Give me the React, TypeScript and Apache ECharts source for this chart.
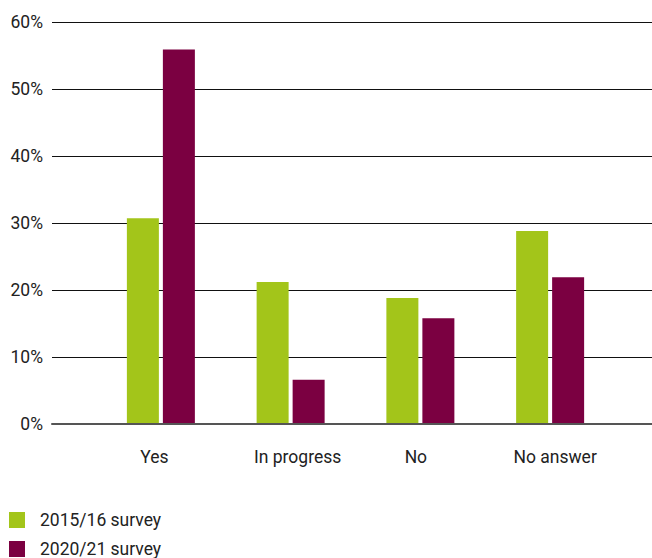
import React, { useEffect, useRef } from "react";
import * as echarts from "echarts";

const categories = ["Yes", "In progress", "No", "No answer"];
const survey2015 = [30.7, 21.2, 18.8, 28.8];
const survey2020 = [55.9, 6.6, 15.8, 21.9];
const seriesNames = ["2015/16 survey", "2020/21 survey"];
const yTicks = { min: 0, max: 60, interval: 10 };

const FONT = "Roboto, 'Liberation Sans', sans-serif";
const FS = 17.5;
const TXT = "#222";
const GREEN = "#A3C51A";
const MAROON = "#7B0041";

export default function App() {
  const ref = useRef<HTMLDivElement>(null);
  useEffect(() => {
    if (!ref.current) return;
    const chart = echarts.init(ref.current, undefined, { renderer: "svg" });
    const labelStyles = ["s0", "s1", "s2", "s3"];
    const legendCommon = {
      orient: "vertical",
      left: 9,
      padding: 0,
      itemWidth: 16,
      itemHeight: 16,
      icon: "rect",
      textStyle: { fontFamily: FONT, fontSize: FS, color: TXT, padding: [3, 0, 0, 10] },
    };
    chart.setOption({
      animation: false,
      textStyle: { fontFamily: FONT },
      legend: [
        { ...legendCommon, top: 511, data: [seriesNames[0]] },
        { ...legendCommon, top: 540, data: [seriesNames[1]] },
      ],
      grid: [
        { left: 52, right: 0, top: 22, bottom: 134 },
        { left: 96, right: 37, top: 22, bottom: 134 },
      ],
      xAxis: [
        {
          gridIndex: 0,
          type: "category",
          data: categories,
          axisLine: { show: true, lineStyle: { color: "#555", width: 2 } },
          axisTick: { show: false },
          axisLabel: { show: false },
          splitLine: { show: false },
          z: 5,
        },
        {
          gridIndex: 1,
          type: "category",
          data: categories,
          axisLine: { show: false },
          axisTick: { show: false },
          axisLabel: {
            interval: 0,
            margin: 24,
            fontFamily: FONT,
            fontSize: FS,
            color: TXT,
            formatter: (v: string) => {
              const i = categories.indexOf(v);
              return `{${labelStyles[i]}|${v}}`;
            },
            rich: {
              s0: { fontFamily: FONT, fontSize: FS, color: TXT, padding: [0, 13, 0, 0] },
              s1: { fontFamily: FONT, fontSize: FS, color: TXT, padding: [0, 0, 0, 14] },
              s2: { fontFamily: FONT, fontSize: FS, color: TXT, padding: [0, 9, 0, 0] },
              s3: { fontFamily: FONT, fontSize: FS, color: TXT, padding: [0, 0, 0, 10] },
            },
          },
        },
      ],
      yAxis: [
        {
          gridIndex: 0,
          type: "value",
          min: yTicks.min,
          max: yTicks.max,
          interval: yTicks.interval,
          axisLine: { show: false },
          axisTick: { show: false },
          axisLabel: {
            formatter: "{value}%",
            margin: 9,
            fontFamily: FONT,
            fontSize: FS,
            color: TXT,
          },
          splitLine: { show: true, lineStyle: { color: "#111", width: 1 } },
        },
        {
          gridIndex: 1,
          type: "value",
          min: yTicks.min,
          max: yTicks.max,
          interval: yTicks.interval,
          show: false,
          splitLine: { show: false },
        },
      ],
      series: [
        {
          name: seriesNames[0],
          type: "bar",
          xAxisIndex: 1,
          yAxisIndex: 1,
          data: survey2015,
          barWidth: 32,
          barGap: "12.5%",
          itemStyle: { color: GREEN },
        },
        {
          name: seriesNames[1],
          type: "bar",
          xAxisIndex: 1,
          yAxisIndex: 1,
          data: survey2020,
          barWidth: 32,
          barGap: "12.5%",
          itemStyle: { color: MAROON },
        },
      ],
    });
    return () => chart.dispose();
  }, []);
  return <div ref={ref} style={{ width: 652, height: 558, position: "absolute", left: 0, top: 0 }} />;
}
